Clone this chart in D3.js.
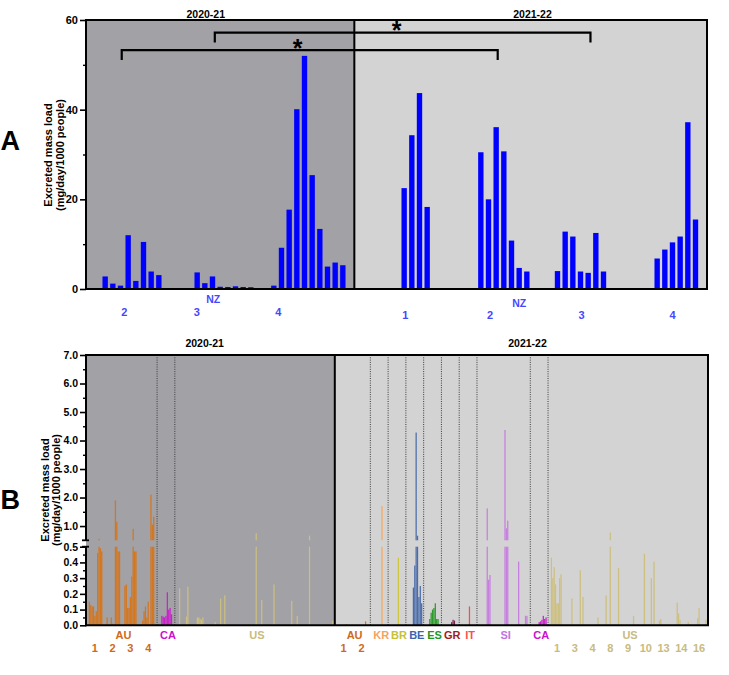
<!DOCTYPE html>
<html><head><meta charset="utf-8">
<script src="https://cdn.jsdelivr.net/npm/d3@7"></script>
<style>
body{margin:0;background:#fff}
svg{display:block}
text{font-family:"Liberation Sans",Arial,Helvetica,sans-serif;font-weight:bold}
</style>
</head><body>
<svg id="c" width="729" height="675"></svg>
<script>
// ================= DATA =================
const seasons = ["2020-21", "2021-22"];

// Panel A – NZ excreted mass load, one entry per sampling slot (null = no sample)
const nzLoad2020 = [null, null,
  2.8, 1.2, 0.75, 12.0, 1.8, 10.5, 3.9, 3.1,
  null, null, null, null,
  3.7, 1.3, 2.8, 0.5, 0.45, 0.6, 0.45, 0.4,
  null, null,
  0.75, 9.2, 17.7, 40.1, 52.0, 25.4, 13.4, 5.0, 5.9, 5.3,
  null];
const nzLoad2021 = [null, null, null, null, null, null,
  22.5, 34.3, 43.7, 18.3,
  null, null, null, null, null, null,
  30.5, 20.0, 36.1, 30.7, 10.8, 4.7, 3.9,
  null, null, null,
  4.0, 12.8, 11.7, 3.9, 3.6, 12.5, 3.9,
  null, null, null, null, null, null,
  6.8, 8.8, 10.4, 11.7, 37.2, 15.5,
  null];
const nzSiteLabels = ["2", "3", "4", "1", "2", "3", "4"];
const nzSiteAt = [5.0, 14.45, 25.1, 41.65, 52.7, 64.65, 76.5];   // slot units
const nzCountryAt = [16.6, 56.5];
const nzTicks = [0, 20, 40, 60];
const nzMinorTicks = [10, 30, 50];
// significance brackets (slot units / load units)
const sigFrom = [16.8, 4.66];
const sigTo = [65.8, 53.7];
const sigLevel = [57.2, 53.3];
const sigLegEnd = [55.0, 51.1];
const sigStarAt = [40.5, 27.6];

// Panel B – other countries, 13 sampling slots per site
const regionCountry2020 = ["AU","AU","AU","AU","CA","US","US","US","US","US","US","US","US","US"];
const regionSite2020 = ["1","2","3","4","","","","","","","","","",""];
const bLoad2020 = [
  [0,0,0.15,0.13,0.12,0.12,0.06,0.09,0.46,0.55,0.49,0.47,0],
  [0,0,0.05,0,0,0.05,0.01,0,1.9,1.15,0.47,0.47,0],
  [0,0,0.25,0.26,0.11,0.11,0.18,0.31,0.9,0.47,0.47,0,0],
  [0,0,0.03,0.09,0.12,0.05,0.15,0,2.1,1.05,1.33,0,0],
  [0,0,0,0.06,0.055,0.05,0.06,0.21,0.1,0.11,0.07,0,0],
  [0,0,0,0.235,0,0,0,0,0.055,0.245,0,0,0],
  [0,0,0,0.05,0.05,0.04,0.035,0.05,0,0,0,0,0],
  [0,0,0,0.02,0,0,0,0.17,0,0,0.19,0,0],
  [0,0,0,0,0,0,0,0,0,0,0,0,0],
  [0,0,0,0,0,0,0,0.75,0,0,0,0.16,0],
  [0,0,0,0,0,0,0,0.26,0,0,0,0,0],
  [0,0,0,0,0,0,0,0.155,0,0,0,0.06,0],
  [0,0,0,0,0,0,0,0.66,0,0,0,0,0],
  [0,0,0,0,0,0,0,0,0,0,0,0.03,0]
];
const regionCountry2021 = ["AU","AU","KR","BR","BE","ES","GR","IT","SI","SI","SI","CA","US","US","US","US","US","US","US","US","US"];
const regionSite2021 = ["1","2","","","","","","","","","","","1","3","4","8","9","10","13","14","16"];
const bLoad2021 = [
  [0,0,0,0,0,0,0,0,0.006,0,0,0,0],
  [0,0,0,0,0,0,0,0,0,0.025,0,0,0],
  [0,0,0,0,0,0,0,0,1.7,0,0,0,0],
  [0,0,0,0,0,0,0,0.43,0,0,0,0,0],
  [0,0,0,0,0,0.24,0.38,4.28,0.66,0.18,0.25,0.14,0],
  [0,0,0,0,0.04,0.08,0.1,0.11,0.14,0.04,0.04,0,0],
  [0,0,0,0,0,0,0,0.02,0.035,0.03,0,0,0],
  [0,0,0,0,0,0,0,0.12,0,0,0,0,0],
  [0,0,0,0,0,0,0,1.62,0.29,0.32,0,0,0],
  [0,0,0,0,0,0,0,4.37,0.92,1.19,0,0,0],
  [0,0,0,0,0.405,0,0,0,0,0.06,0.06,0,0],
  [0,0,0,0,0,0,0.02,0.025,0.035,0.06,0.04,0.05,0],
  [0,0,0.43,0.3,0.37,0.26,0.14,0.14,0.3,0.325,0,0,0],
  [0,0,0,0,0.17,0,0,0,0,0,0.35,0,0.18],
  [0,0,0,0,0,0,0,0,0,0,0.05,0,0],
  [0,0,0,0.19,0,0,0.77,0,0,0,0,0,0.365],
  [0,0,0,0,0,0,0,0,0,0,0.06,0,0],
  [0,0,0,0,0,0.455,0,0,0,0,0.3,0,0.405],
  [0,0,0,0.03,0.04,0,0,0,0,0,0,0,0],
  [0,0,0,0.145,0.075,0.035,0,0,0,0,0,0.022,0],
  [0,0,0,0,0,0.045,0.11,0,0,0,0,0.035,0]
];
const bTicksLow = [0, 0.1, 0.2, 0.3, 0.4, 0.5];
const bMinorLow = [0.05, 0.15, 0.25, 0.35, 0.45];
const bTicksHigh = [1, 2, 3, 4, 5, 6, 7];
const bMinorHigh = [1.5, 2.5, 3.5, 4.5, 5.5, 6.5];

// ================= STYLE =================
const DARK = "#a2a1a6", LIGHT = "#d3d3d3";
const barColor = {AU:"#d4761e", KR:"#f7a95e", BR:"#cdc63e", BE:"#4a6daa", ES:"#2a9a2a",
  GR:"#7a2050", IT:"#ff4848", SI:"#c67ee0", CA:"#cc1ecc", US:"#cdbf7e"};
const labelColor = {AU:"#cf6a1a", KR:"#f5a45c", BR:"#c6c232", BE:"#3c64ae", ES:"#1e961e",
  GR:"#a01c24", IT:"#ff4c4c", SI:"#c274e0", CA:"#cc11cc", US:"#c9bb80"};
const NZBLUE = "#0000ff", NZLABEL = "#4646ff";

const svg = d3.select("#c");
function text(g, x, y, s, size, fill, anchor, rot) {
  const t = g.append("text").attr("font-size", size).attr("fill", fill || "#000")
    .attr("text-anchor", anchor || "middle").attr("dy", "0.35em").text(s);
  if (rot) t.attr("transform", `translate(${x},${y}) rotate(${rot})`);
  else t.attr("x", x).attr("y", y);
  return t;
}

// ================= PANEL A =================
const A = {l: 86, r: 707, t: 20, b: 289};
const nzAll = nzLoad2020.concat(nzLoad2021);
const nA = nzAll.length;
const xA = d3.scaleBand().domain(d3.range(nA)).range([A.l, A.r]).paddingInner(0.3).paddingOuter(0.15);
const uA = d3.scaleLinear().domain([0, nA]).range([A.l, A.r]);
const yA = d3.scaleLinear().domain([0, 60]).range([A.b, A.t]);
const gA = svg.append("g");
const splitA = uA(nzLoad2020.length);
gA.append("rect").attr("x", A.l).attr("y", A.t).attr("width", splitA - A.l).attr("height", A.b - A.t).attr("fill", DARK);
gA.append("rect").attr("x", splitA).attr("y", A.t).attr("width", A.r - splitA).attr("height", A.b - A.t).attr("fill", LIGHT);

gA.selectAll("rect.bar").data(nzAll.map((v, i) => ({v, i})).filter(d => d.v != null))
  .join("rect").attr("class", "bar")
  .attr("x", d => xA(d.i)).attr("width", xA.bandwidth())
  .attr("y", d => yA(d.v)).attr("height", d => yA(0) - yA(d.v))
  .attr("fill", NZBLUE);

// frame and divider
gA.append("rect").attr("x", A.l).attr("y", A.t).attr("width", A.r - A.l).attr("height", A.b - A.t)
  .attr("fill", "none").attr("stroke", "#000").attr("stroke-width", 2);
gA.append("line").attr("x1", splitA).attr("x2", splitA).attr("y1", A.t).attr("y2", A.b)
  .attr("stroke", "#000").attr("stroke-width", 2);

// y axis
const axA = gA.append("g").attr("transform", `translate(${A.l},0)`)
  .call(d3.axisLeft(yA).tickValues(nzTicks).tickSize(6).tickPadding(2).tickFormat(d3.format("d")));
axA.select(".domain").remove();
axA.selectAll("line").attr("stroke", "#000").attr("stroke-width", 1.6);
axA.selectAll("text").attr("font-size", 11).attr("font-weight", "bold").attr("fill", "#000")
  .attr("font-family", '"Liberation Sans",Arial,sans-serif');
const axAm = gA.append("g").attr("transform", `translate(${A.l},0)`)
  .call(d3.axisLeft(yA).tickValues(nzMinorTicks).tickSize(3).tickFormat(""));
axAm.select(".domain").remove();
axAm.selectAll("line").attr("stroke", "#000").attr("stroke-width", 1.4);

// titles
text(gA, 205.8, 14.7, seasons[0], 10.5);
text(gA, 532.5, 14.7, seasons[1], 10.5);
text(gA, 48.5, 155, "Excreted mass load", 11, "#000", "middle", -90);
text(gA, 60.5, 155, "(mg/day/1000 people)", 11, "#000", "middle", -90);
svg.append("text").attr("x", 0.5).attr("y", 150).attr("font-size", 27).text("A");

// category labels
nzCountryAt.forEach((u, k) => text(gA, uA(u), k === 0 ? 299.5 : 303, "NZ", 10.5, NZLABEL));
nzSiteLabels.forEach((s, k) => text(gA, uA(nzSiteAt[k]), nzSiteAt[k] < nzLoad2020.length ? 311.7 : 315.3, s, 11, NZLABEL));

// significance brackets
sigFrom.forEach((f, k) => {
  gA.append("path")
    .attr("d", `M${uA(f)},${yA(sigLegEnd[k])}V${yA(sigLevel[k])}H${uA(sigTo[k])}V${yA(sigLegEnd[k])}`)
    .attr("fill", "none").attr("stroke", "#000").attr("stroke-width", 2.2);
  gA.append("text").attr("x", uA(sigStarAt[k])).attr("y", yA(sigLevel[k]) + 6.5)
    .attr("text-anchor", "middle").attr("font-size", 25).attr("font-weight", "normal").text("*");
});

// ================= PANEL B =================
const B = {l: 86, r: 708, t: 355, b: 625.3, lowTop: 546.7, highBot: 540.3};
const regionCountry = regionCountry2020.concat(regionCountry2021);
const regionSite = regionSite2020.concat(regionSite2021);
const bLoad = bLoad2020.concat(bLoad2021);
const nR = regionCountry.length;
const nSub = bLoad[0].length;
const xB = d3.scaleBand().domain(d3.range(nR)).range([B.l, B.r]);
const xSub = d3.scaleBand().domain(d3.range(nSub)).range([0, xB.bandwidth()]).paddingInner(0.1);
const yLow = d3.scaleLinear().domain([0, 0.5]).range([B.b, B.lowTop]);
const yHigh = d3.scaleLinear().domain([0.5, 7]).range([B.highBot, B.t]);
const gB = svg.append("g");
const splitB = xB(regionCountry2020.length);
gB.append("rect").attr("x", B.l).attr("y", B.t).attr("width", splitB - B.l).attr("height", B.b - B.t).attr("fill", DARK);
gB.append("rect").attr("x", splitB).attr("y", B.t).attr("width", B.r - splitB).attr("height", B.b - B.t).attr("fill", LIGHT);

// dotted country separators
for (let k = 1; k < nR; k++) {
  if (k === regionCountry2020.length) continue;
  if (regionCountry[k] !== regionCountry[k - 1]) {
    gB.append("line").attr("x1", xB(k)).attr("x2", xB(k)).attr("y1", B.t).attr("y2", B.b)
      .attr("stroke", "#3a3a3a").attr("stroke-width", 1).attr("stroke-dasharray", "1,1.3");
  }
}

const bBars = [];
bLoad.forEach((row, r) => row.forEach((v, s) => { if (v > 0) bBars.push({r, s, v, c: regionCountry[r]}); }));
gB.selectAll("rect.lo").data(bBars).join("rect").attr("class", "lo")
  .attr("x", d => xB(d.r) + xSub(d.s)).attr("width", xSub.bandwidth())
  .attr("y", d => yLow(Math.min(d.v, 0.5))).attr("height", d => B.b - yLow(Math.min(d.v, 0.5)))
  .attr("fill", d => barColor[d.c]);
gB.selectAll("rect.hi").data(bBars.filter(d => d.v > 0.5)).join("rect").attr("class", "hi")
  .attr("x", d => xB(d.r) + xSub(d.s)).attr("width", xSub.bandwidth())
  .attr("y", d => yHigh(d.v)).attr("height", d => yHigh(0.5) - yHigh(d.v))
  .attr("fill", d => barColor[d.c]);

// frame (top, right, bottom), season divider
gB.append("path").attr("d", `M${B.l},${B.t}H${B.r}V${B.b}H${B.l}`)
  .attr("fill", "none").attr("stroke", "#000").attr("stroke-width", 2);
gB.append("line").attr("x1", splitB).attr("x2", splitB).attr("y1", B.t).attr("y2", B.b)
  .attr("stroke", "#000").attr("stroke-width", 2);

// broken y axis
function yAxisB(scale, major, minor, y0, y1) {
  const g1 = gB.append("g").attr("transform", `translate(${B.l},0)`)
    .call(d3.axisLeft(scale).tickValues(major).tickSize(6).tickPadding(2).tickFormat(d3.format(".1f")));
  g1.select(".domain").remove();
  g1.selectAll("line").attr("stroke", "#000").attr("stroke-width", 1.6);
  g1.selectAll("text").attr("font-size", 10.5).attr("font-weight", "bold").attr("fill", "#000")
    .attr("font-family", '"Liberation Sans",Arial,sans-serif');
  const g2 = gB.append("g").attr("transform", `translate(${B.l},0)`)
    .call(d3.axisLeft(scale).tickValues(minor).tickSize(3).tickFormat(""));
  g2.select(".domain").remove();
  g2.selectAll("line").attr("stroke", "#000").attr("stroke-width", 1.4);
  gB.append("line").attr("x1", B.l).attr("x2", B.l).attr("y1", y0).attr("y2", y1)
    .attr("stroke", "#000").attr("stroke-width", 2);
}
yAxisB(yLow, bTicksLow, bMinorLow, B.lowTop, B.b + 1);
yAxisB(yHigh, bTicksHigh, bMinorHigh, B.t - 1, B.highBot);
[B.highBot, B.lowTop].forEach(y => gB.append("line").attr("x1", B.l - 4).attr("x2", B.l + 3)
  .attr("y1", y).attr("y2", y).attr("stroke", "#000").attr("stroke-width", 1.8));

// titles
text(gB, 204.7, 343, seasons[0], 10.5);
text(gB, 527.5, 343, seasons[1], 10.5);
text(gB, 44.7, 490, "Excreted mass load", 11, "#000", "middle", -90);
text(gB, 55.7, 490, "(mg/day/1000 people)", 11, "#000", "middle", -90);
svg.append("text").attr("x", 0.5).attr("y", 509).attr("font-size", 27).text("B");

// country labels: runs of same country within each season
[[0, regionCountry2020.length], [regionCountry2020.length, nR]].forEach(([a, b]) => {
  let s = a;
  for (let k = a + 1; k <= b; k++) {
    if (k === b || regionCountry[k] !== regionCountry[s]) {
      const cx = (xB(s) + xB(k - 1) + xB.bandwidth()) / 2 + 2;
      text(gB, cx, 635.5, regionCountry[s], 11, labelColor[regionCountry[s]]);
      s = k;
    }
  }
});
regionSite.forEach((s, k) => {
  if (s) text(gB, xB(k) + xB.bandwidth() / 2, 648, s, 11, labelColor[regionCountry[k]]);
});
</script>
</body></html>
